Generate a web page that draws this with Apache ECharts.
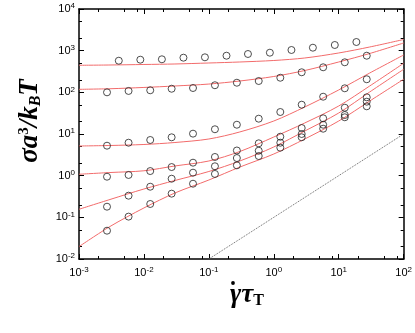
<!DOCTYPE html>
<html>
<head>
<meta charset="utf-8">
<script src="https://cdn.jsdelivr.net/npm/echarts@6/dist/echarts.min.js"></script>
<style>
  html, body { margin: 0; padding: 0; background: #fff; }
  #chart { width: 415px; height: 333px; }
</style>
</head>
<body>
<div id="chart"></div>
<script>
// shear rates of the simulation points
const rateTop = [0.0041, 0.0088, 0.0189, 0.0406, 0.087, 0.187, 0.40, 0.87, 1.87, 4.0, 8.7, 18.7]
const rateRest = [0.0027, 0.0058, 0.0125, 0.0267, 0.057, 0.124, 0.27, 0.586, 1.26, 2.69, 5.76, 12.4, 27]

// stress of the simulation points (open circles)
const stressA = [574, 607, 621, 678, 693, 757, 832, 894, 1038, 1178, 1368, 1614]
const stressB = [100, 108, 112, 122, 127, 148, 170, 187, 224, 303, 399, 526, 757]
const stressC = [5.24, 6.18, 7.18, 8.33, 10.2, 13.0, 16.7, 23.3, 33.7, 50.5, 78.5, 125, 206]
const stressD = [0.944, 1.04, 1.29, 1.61, 2.05, 2.81, 4.02, 5.98, 8.61, 13.9, 23.8, 42.8, 76]
const stressE = [0.180, 0.331, 0.543, 0.845, 1.18, 1.68, 2.65, 3.97, 6.18, 10, 16.7, 28.6, 59.6]
const stressF = [0.0478, 0.104, 0.209, 0.37, 0.641, 1.10, 1.77, 2.96, 4.69, 8.34, 13.4, 25.2, 46.2]

// theory curves (red lines), read at these rates
const curveRate = [0.001, 0.003, 0.01, 0.03, 0.1, 0.3, 1, 3, 10, 30, 100]
const curveA = [446, 453, 466, 479, 506, 535, 581, 667, 880, 1225, 1854]
const curveB = [118, 122, 131, 142, 158, 187, 240, 334, 535, 855, 1528]
const curveC = [5.15, 5.30, 5.60, 6.25, 7.59, 11.2, 20.5, 44.5, 114, 291, 787]
const curveD = [1.08, 1.19, 1.31, 1.71, 2.25, 3.80, 8.47, 18.4, 47, 142, 498]
const curveE = [0.156, 0.268, 0.479, 0.766, 1.26, 2.25, 4.88, 11.8, 31.9, 102, 357]
const curveF = [0.0198, 0.0603, 0.168, 0.384, 0.787, 1.61, 3.31, 7.59, 20.5, 61.9, 206]

// slope-one guide (dotted)
const guideRate = [0.1, 100]
const guideStress = [0.01, 10]

// ticks
const xMajor = [0.001, 0.01, 0.1, 1, 10, 100]
const yMajor = [0.01, 0.1, 1, 10, 100, 1000, 10000]
const xMinor = [0.002, 0.005, 0.008, 0.02, 0.05, 0.08, 0.2, 0.5, 0.8, 2, 5, 8, 20, 50, 80]
const yMinor = [0.02, 0.05, 0.2, 0.5, 2, 5, 20, 50, 200, 500, 2000, 5000]

const zip = (xs, ys) => xs.map((x, i) => [x, ys[i]])

const chart = echarts.init(document.getElementById('chart'))

const labelRich = {
  b: { fontFamily: 'Liberation Sans', fontSize: 11, color: '#000' },
  s: { fontFamily: 'Liberation Sans', fontSize: 8, color: '#000', verticalAlign: 'top', padding: [0, 0, 6, 0] }
}
const powLabel = v => '{b|10}{s|' + Math.round(Math.log10(v)) + '}'

function makeAxis(dim, position, major, minor, showLabel) {
  const min = dim === 'x' ? 0.001 : 0.01
  const max = dim === 'x' ? 100 : 10000
  const base = { type: 'log', logBase: 10, min: min, max: max, position: position, splitLine: { show: false } }
  return [
    Object.assign({}, base, {
      axisLine: { show: true, lineStyle: { color: '#000', width: 1.5 } },
      axisTick: { show: true, inside: true, length: 5, customValues: major, lineStyle: { color: '#000', width: 1 } },
      axisLabel: showLabel
        ? { show: true, customValues: major, formatter: powLabel, rich: labelRich, margin: dim === 'x' ? 7 : 4 }
        : { show: false }
    }),
    Object.assign({}, base, {
      axisLine: { show: false },
      axisTick: { show: true, inside: true, length: 3, customValues: minor, lineStyle: { color: '#000', width: 1 } },
      axisLabel: { show: false }
    })
  ]
}

const circle = (name, xs, ys) => ({
  name: name,
  type: 'scatter',
  data: zip(xs, ys),
  symbol: 'circle',
  symbolSize: 7,
  itemStyle: { color: 'rgba(255,255,255,0)', borderColor: '#222', borderWidth: 1 },
  z: 3
})
const curve = (name, ys) => ({
  name: name,
  type: 'line',
  data: zip(curveRate, ys),
  showSymbol: false,
  smooth: 0.3,
  lineStyle: { color: '#f26b6b', width: 1 },
  z: 2
})

chart.setOption({
  animation: false,
  grid: { left: 79, right: 9, top: 9, bottom: 74 },
  xAxis: [].concat(
    makeAxis('x', 'bottom', xMajor, xMinor, true),
    makeAxis('x', 'top', xMajor, xMinor, false)
  ),
  yAxis: [].concat(
    makeAxis('y', 'left', yMajor, yMinor, true),
    makeAxis('y', 'right', yMajor, yMinor, false)
  ),
  graphic: [
    {
      type: 'text',
      x: 30, y: 121,
      rotation: Math.PI / 2,
      style: {
        text: '{m|σa}{sp|3}{m|/k}{sb|B}{m|T}',
        align: 'center',
        verticalAlign: 'middle',
        rich: {
          m: { fontFamily: 'Liberation Serif', fontStyle: 'italic', fontWeight: 'bold', fontSize: 27, fill: '#000' },
          sp: { fontFamily: 'Liberation Serif', fontWeight: 'bold', fontSize: 15, fill: '#000', verticalAlign: 'top', padding: [0, 0, 10, 0] },
          sb: { fontFamily: 'Liberation Serif', fontStyle: 'italic', fontWeight: 'bold', fontSize: 16, fill: '#000', verticalAlign: 'bottom', padding: [8, 0, 0, 0] }
        }
      }
    },
    {
      type: 'text',
      x: 247, y: 295,
      style: {
        text: '{m|γτ}{sb|T}',
        align: 'center',
        verticalAlign: 'middle',
        rich: {
          m: { fontFamily: 'Liberation Serif', fontStyle: 'italic', fontWeight: 'bold', fontSize: 27, fill: '#000' },
          sb: { fontFamily: 'Liberation Serif', fontWeight: 'bold', fontSize: 16, fill: '#000', verticalAlign: 'bottom', padding: [10, 0, 0, 0] }
        }
      }
    },
    {
      // dot over gamma
      type: 'circle',
      shape: { cx: 233, cy: 283, r: 1.9 },
      style: { fill: '#000' }
    }
  ],
  series: [
    curve('A', curveA), curve('B', curveB), curve('C', curveC),
    curve('D', curveD), curve('E', curveE), curve('F', curveF),
    {
      name: 'guide',
      type: 'line',
      data: zip(guideRate, guideStress),
      showSymbol: false,
      lineStyle: { color: '#666', width: 1, type: 'dotted' },
      z: 1
    },
    circle('a', rateTop, stressA),
    circle('b', rateRest, stressB),
    circle('c', rateRest, stressC),
    circle('d', rateRest, stressD),
    circle('e', rateRest, stressE),
    circle('f', rateRest, stressF)
  ]
})
</script>
</body>
</html>
